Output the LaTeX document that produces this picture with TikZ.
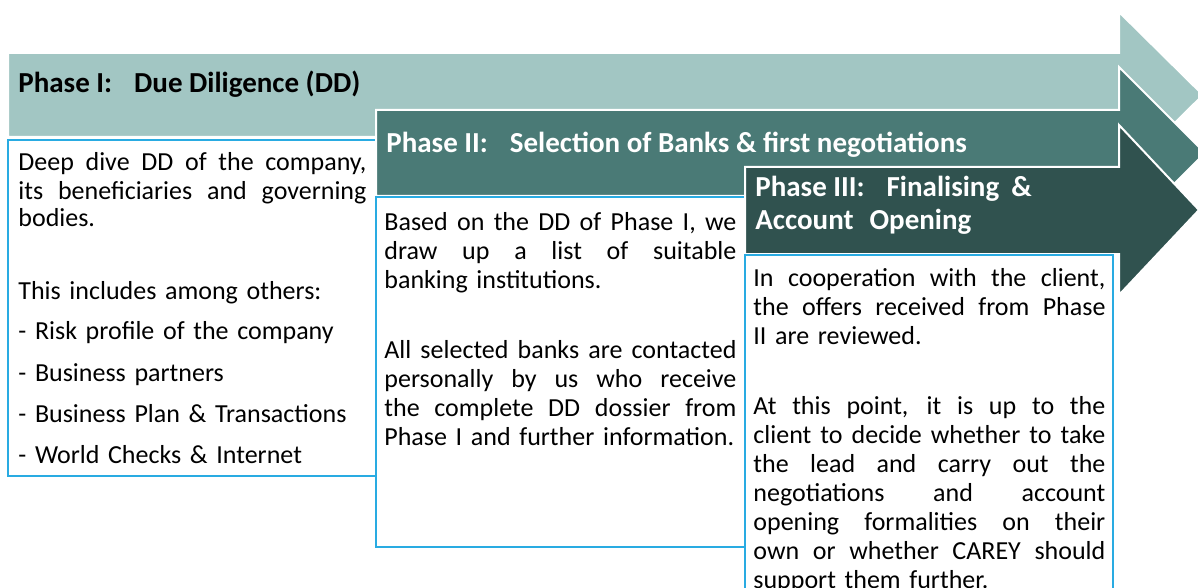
\documentclass[tikz,border=0pt]{standalone}
\usepackage{fontspec}
\setmainfont{Carlito}
\usepackage{tikz}
\usetikzlibrary{positioning}
\definecolor{phaseone}{HTML}{A2C6C3}
\definecolor{phasetwo}{HTML}{4A7A76}
\definecolor{phasethree}{HTML}{30524F}
\definecolor{boxblue}{HTML}{29ABE2}
\newcommand{\fullline}[1]{\makebox[\hsize][s]{\spaceskip=0.23em plus 1fil\relax #1}}

\begin{document}
\begin{tikzpicture}[x=0.5pt, y=-0.5pt,
    phasearrow/.style={draw=white, line width=1pt, line join=miter},
    infobox/.style={draw=boxblue, fill=white, line width=1pt},
    phasehead/.style={anchor=base west, inner sep=0pt, font=\fontsize{14.5}{16.5}\selectfont\bfseries},
    phasetext/.style={anchor=base west, inner sep=0pt, align=left, text width=176pt, font=\fontsize{13}{14.5}\selectfont}]
    \useasboundingbox (0,0) rectangle (1198,588);

    % Phase I
    \filldraw[phasearrow, fill=phaseone] (8,53) -- (1119,53) -- (1119,12) -- (1203,95) -- (1119,178) -- (1119,137) -- (8,137) -- cycle;
    \node[phasehead] (headone) at (18,93) {Phase I:\hspace{11pt}Due Diligence (DD)};
    \draw[infobox] (8,140) rectangle (376,476);
    \node[phasetext, text width=174pt, font=\fontsize{13}{14}\selectfont] (textone) at (18,171) {%
        \fullline{Deep dive DD of the company,}\\
        \fullline{its beneficiaries and governing}\\
        bodies.\\[22pt]
        This includes among others:\\[6.5pt]
        - Risk profile of the company\\[6.5pt]
        - Business partners\\[6.5pt]
        - Business Plan \& Transactions\\[6.5pt]
        - World Checks \& Internet};

    % Phase II
    \filldraw[phasearrow, fill=phasetwo] (376,110) -- (1119,110) -- (1119,67) -- (1205,153) -- (1119,239) -- (1119,196) -- (376,196) -- cycle;
    \node[phasehead, text=white] (headtwo) at (386,153) {Phase II:\hspace{11pt}Selection of Banks \& first negotiations};
    \draw[infobox] (376,197) rectangle (745,547);
    \node[phasetext] (texttwo) at (384,230) {%
        \fullline{Based on the DD of Phase I, we}\\
        \fullline{draw up a list of suitable}\\
        banking institutions.\\[20.5pt]
        \fullline{All selected banks are contacted}\\
        \fullline{personally by us who receive}\\
        \fullline{the complete DD dossier from}\\
        Phase I and further information.};

    % Phase III
    \filldraw[phasearrow, fill=phasethree] (745,167) -- (1119,167) -- (1119,125) -- (1199,210) -- (1119,295) -- (1119,254) -- (745,254) -- cycle;
    \node[phasehead, text=white, align=left] (headthree) at (755,229) {Phase III:\hspace{11pt}Finalising\hspace{6pt}\&\\Account\hspace{8pt}Opening};
    \draw[infobox] (745,255) rectangle (1113,600);
    \node[phasetext] (textthree) at (753,286) {%
        \fullline{In cooperation with the client,}\\
        \fullline{the offers received from Phase}\\
        II are reviewed.\\[20.5pt]
        \fullline{At this point, it is up to the}\\
        \fullline{client to decide whether to take}\\
        \fullline{the lead and carry out the}\\
        \fullline{negotiations and account}\\
        \fullline{opening formalities on their}\\
        \fullline{own or whether CAREY should}\\
        support them further.};
\end{tikzpicture}
\end{document}
